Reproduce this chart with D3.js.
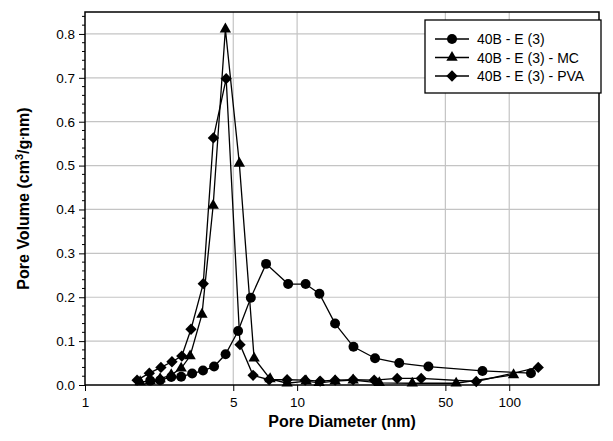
<!DOCTYPE html>
<html>
<head>
<meta charset="utf-8">
<script src="https://cdn.jsdelivr.net/npm/d3@7"></script>
<style>
  body { margin: 0; background: #fff; }
  svg { display: block; }
  text { font-family: "Liberation Sans", Arial, sans-serif; }
</style>
</head>
<body>
<svg id="chart" width="613" height="441"></svg>
<script>
// 数据
const seriesNames = ['40B - E (3)', '40B - E (3) - MC', '40B - E (3) - PVA'];

const e3Diam = [2.03, 2.26, 2.55, 2.84, 3.2, 3.6, 4.06, 4.6, 5.27, 6.05, 7.14, 9.07, 10.97, 12.74, 15.1, 18.44, 23.3, 30.3, 41.6, 74.8, 126.6];
const e3Vol  = [0.010, 0.011, 0.018, 0.019, 0.026, 0.033, 0.042, 0.070, 0.123, 0.199, 0.276, 0.230, 0.230, 0.208, 0.140, 0.087, 0.061, 0.050, 0.042, 0.032, 0.027];

const mcDiam = [1.82, 2.03, 2.26, 2.55, 2.84, 3.13, 3.56, 4.02, 4.59, 5.34, 6.27, 7.46, 8.97, 11.03, 12.7, 15.11, 18.37, 24.4, 34.9, 56.2, 104.8];
const mcVol  = [0.007, 0.009, 0.014, 0.023, 0.038, 0.066, 0.161, 0.409, 0.811, 0.505, 0.061, 0.014, 0.004, 0.009, 0.005, 0.009, 0.011, 0.005, 0.004, 0.004, 0.023];

const pvaDiam = [1.76, 2.01, 2.28, 2.57, 2.86, 3.16, 3.61, 4.03, 4.63, 5.38, 6.2, 7.38, 8.97, 10.91, 12.84, 15.11, 18.37, 23.08, 29.63, 38.46, 69.9, 137.0];
const pvaVol  = [0.011, 0.027, 0.040, 0.053, 0.066, 0.127, 0.231, 0.563, 0.698, 0.092, 0.022, 0.012, 0.012, 0.011, 0.009, 0.011, 0.012, 0.011, 0.015, 0.015, 0.008, 0.040];

const xTicks = [1, 5, 10, 50, 100];
const xGrid = [5, 10, 50, 100];
const yTicks = [0, 0.1, 0.2, 0.3, 0.4, 0.5, 0.6, 0.7, 0.8];

const margin = { left: 85, top: 12, right: 14, bottom: 56 };
const W = 613, H = 441;
const plotW = W - margin.left - margin.right;
const plotH = H - margin.top - margin.bottom;

const svg = d3.select('#chart');
const g = svg.append('g').attr('transform', `translate(${margin.left},${margin.top})`);

const x = d3.scaleLog().domain([1, 265]).range([0, plotW]);
const y = d3.scaleLinear().domain([0, 0.85]).range([plotH, 0]);

// 网格
g.append('g').selectAll('line.h')
    .data(yTicks.slice(1))
    .enter().append('line')
    .attr('x1', 0).attr('x2', plotW)
    .attr('y1', d => y(d)).attr('y2', d => y(d))
    .attr('stroke', '#c4c4c4').attr('stroke-width', 1.2);

g.append('g').selectAll('line.v')
    .data(xGrid)
    .enter().append('line')
    .attr('x1', d => x(d)).attr('x2', d => x(d))
    .attr('y1', 0).attr('y2', plotH)
    .attr('stroke', '#c4c4c4').attr('stroke-width', 1.2);

// 坐标轴
const yAxis = d3.axisLeft(y).tickValues(yTicks).tickFormat(d3.format('.1f')).tickSize(6).tickPadding(4);
const yAx = g.append('g').call(yAxis);
yAx.select('.domain').remove();
yAx.selectAll('text').attr('font-size', 13.5).attr('fill', '#000');

const yMinor = d3.range(0, 0.851, 0.02).filter(v => Math.abs(v * 10 - Math.round(v * 10)) > 1e-6);
g.append('g').selectAll('line')
    .data(yMinor)
    .enter().append('line')
    .attr('x1', -3).attr('x2', 0)
    .attr('y1', d => y(d)).attr('y2', d => y(d))
    .attr('stroke', '#000').attr('stroke-width', 1);

const xAxis = d3.axisBottom(x).tickValues(xTicks).tickFormat(d3.format('d')).tickSize(6).tickPadding(6);
const xAx = g.append('g').attr('transform', `translate(0,${plotH})`).call(xAxis);
xAx.select('.domain').remove();
xAx.selectAll('text').attr('font-size', 13.5).attr('fill', '#000');

// 边框
g.append('rect')
    .attr('width', plotW).attr('height', plotH)
    .attr('fill', 'none').attr('stroke', '#000').attr('stroke-width', 1.5);

// 系列
const series = [
    { name: seriesNames[0], xs: e3Diam, ys: e3Vol, sym: d3.symbolCircle, size: 78, rot: 0 },
    { name: seriesNames[1], xs: mcDiam, ys: mcVol, sym: d3.symbolTriangle, size: 56, rot: 0 },
    { name: seriesNames[2], xs: pvaDiam, ys: pvaVol, sym: d3.symbolSquare, size: 64, rot: 45 },
];

const line = d3.line().x(d => x(d[0])).y(d => y(d[1]));

series.forEach(s => {
    const pts = s.xs.map((v, i) => [v, s.ys[i]]);
    g.append('path')
        .datum(pts)
        .attr('d', line)
        .attr('fill', 'none')
        .attr('stroke', '#000')
        .attr('stroke-width', 1.3);
});

series.forEach(s => {
    const pts = s.xs.map((v, i) => [v, s.ys[i]]);
    g.append('g').selectAll('path')
        .data(pts)
        .enter().append('path')
        .attr('d', d3.symbol().type(s.sym).size(s.size))
        .attr('transform', d => `translate(${x(d[0])},${y(d[1])}) rotate(${s.rot})`)
        .attr('fill', '#000');
});

// 图例
const lg = svg.append('g').attr('transform', 'translate(425,20)');
lg.append('rect')
    .attr('width', 176).attr('height', 73)
    .attr('fill', '#fff').attr('stroke', '#000').attr('stroke-width', 1.3);

series.forEach((s, i) => {
    const cy = 19 + i * 18.5;
    lg.append('line')
        .attr('x1', 10).attr('x2', 44)
        .attr('y1', cy).attr('y2', cy)
        .attr('stroke', '#000').attr('stroke-width', 1.3);
    lg.append('path')
        .attr('d', d3.symbol().type(s.sym).size(s.size))
        .attr('transform', `translate(27,${cy}) rotate(${s.rot})`)
        .attr('fill', '#000');
    lg.append('text')
        .attr('x', 52).attr('y', cy + 5)
        .attr('font-size', 14)
        .text(s.name);
});

// 轴标题
svg.append('text')
    .attr('x', margin.left + plotW / 2).attr('y', 427)
    .attr('text-anchor', 'middle')
    .attr('font-size', 16).attr('font-weight', 'bold')
    .text('Pore Diameter (nm)');

const yt = svg.append('text')
    .attr('transform', `translate(29,${margin.top + plotH / 2}) rotate(-90)`)
    .attr('text-anchor', 'middle')
    .attr('font-size', 16).attr('font-weight', 'bold');
yt.append('tspan').text('Pore Volume (cm');
yt.append('tspan').attr('font-size', 11).attr('dy', -6).text('3');
yt.append('tspan').attr('dy', 6).text('/g');
yt.append('tspan').attr('font-size', 11).attr('dy', -5).text('.');
yt.append('tspan').attr('dy', 5).text('nm)');
</script>
</body>
</html>
